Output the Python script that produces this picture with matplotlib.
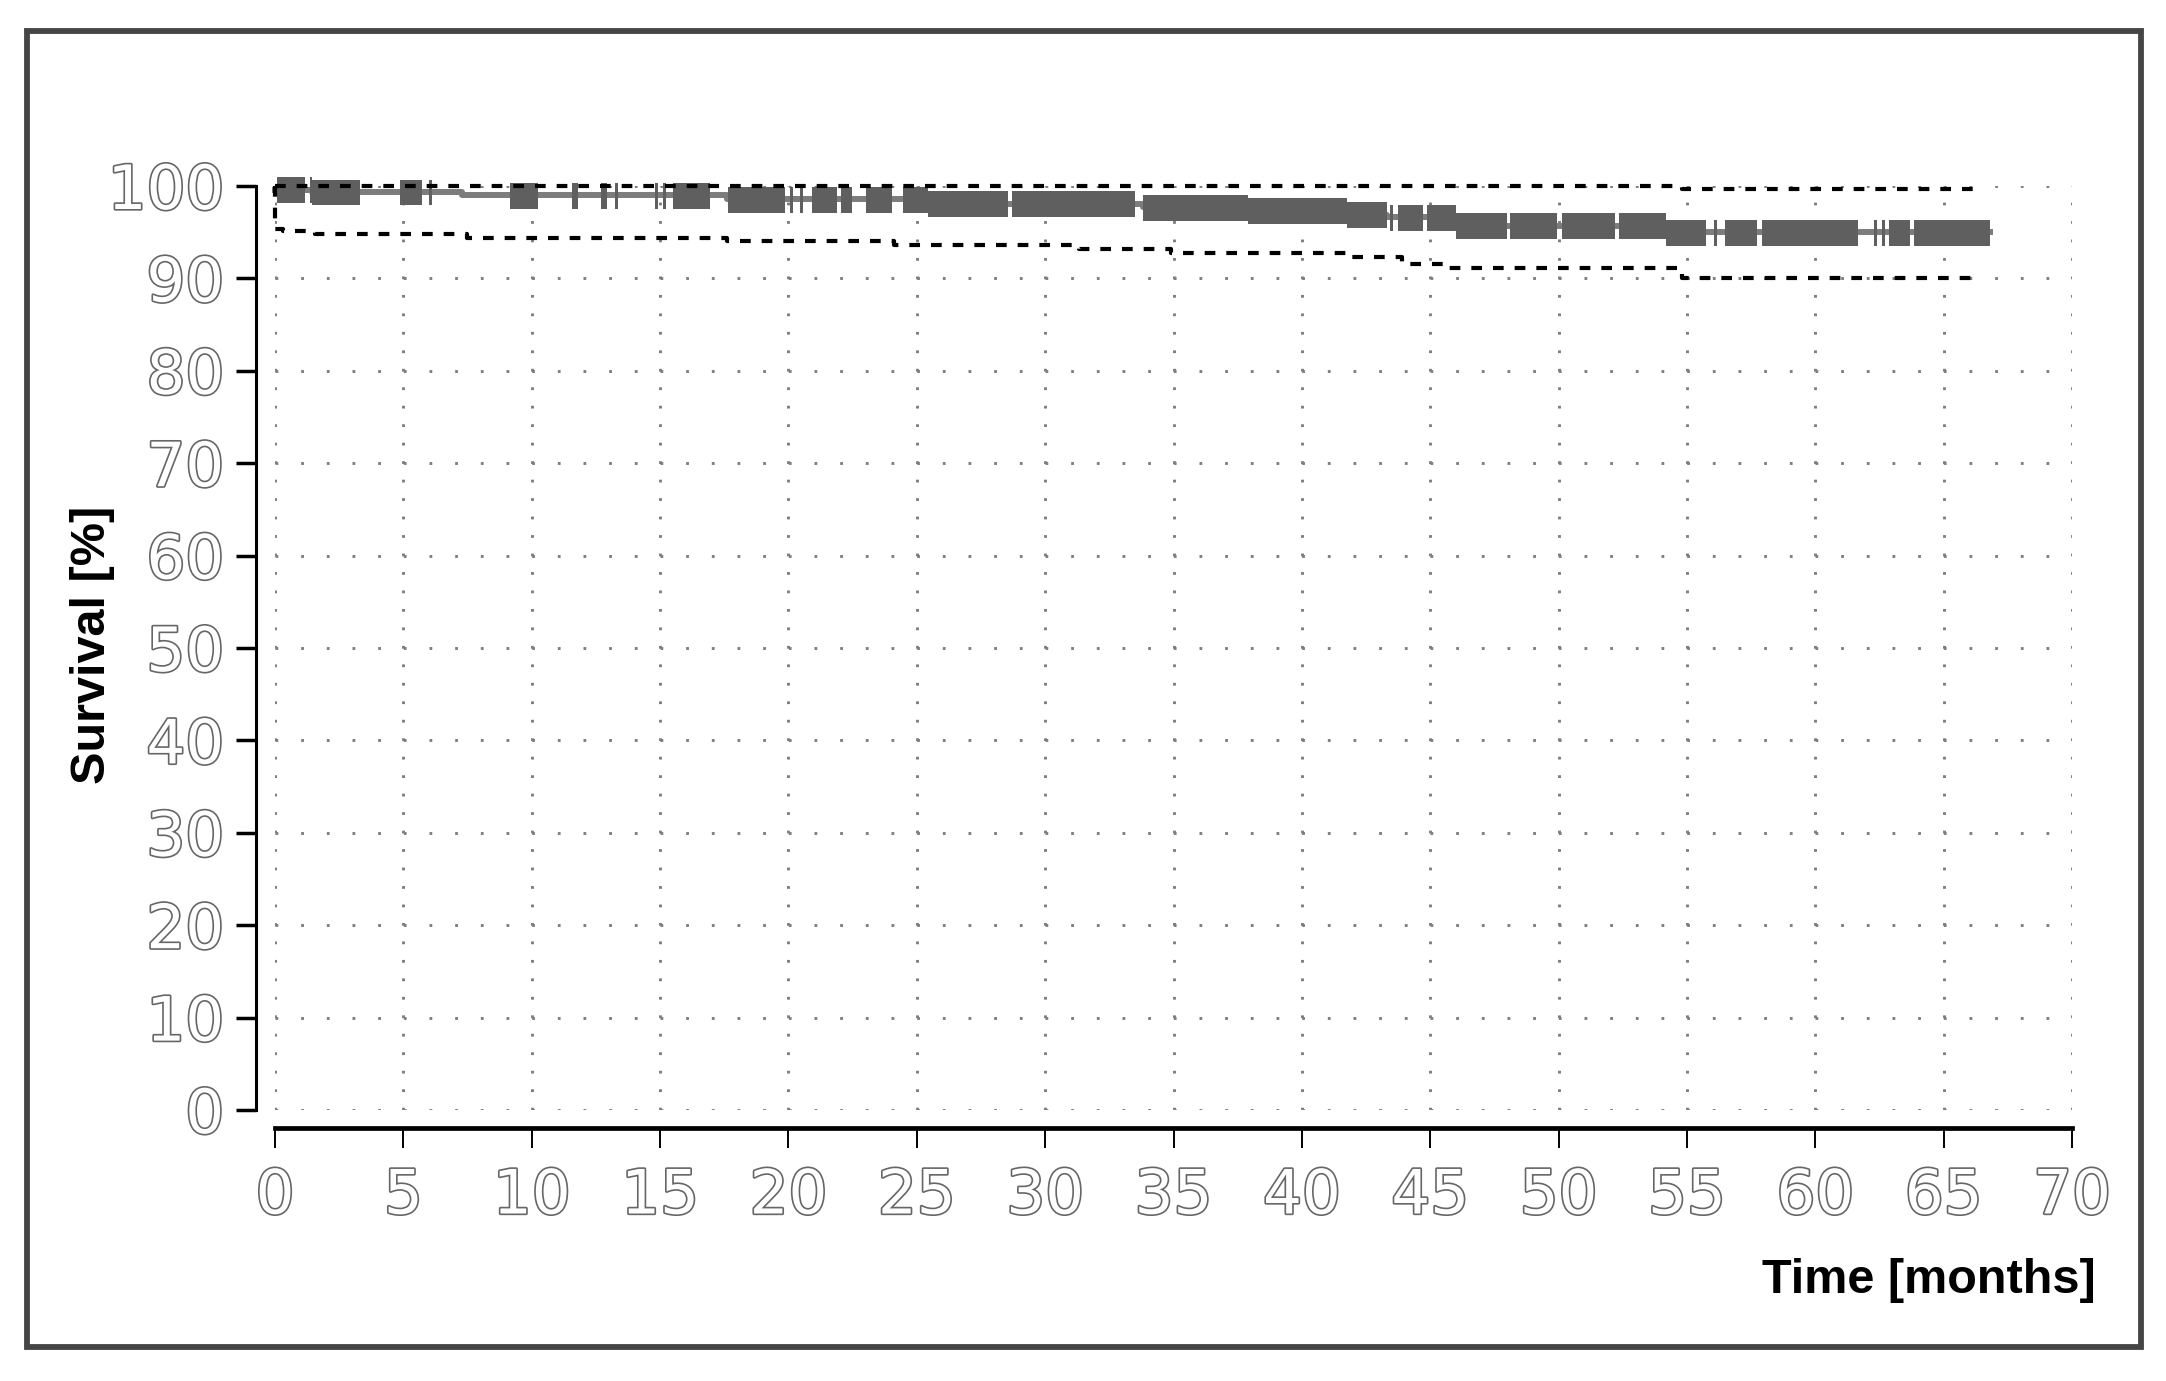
import numpy as np
import matplotlib.pyplot as plt
from matplotlib import font_manager, patheffects
from matplotlib.patches import Rectangle

plt.rcParams['lines.scale_dashes'] = False

# Kaplan-Meier estimate: step times (months) and survival (%)
km_time = [0.0, 1.45, 7.3, 17.6, 25.45, 33.8, 37.9, 41.75, 43.3, 46.0, 54.2, 66.8]
km_surv = [99.6, 99.35, 99.0, 98.55, 98.1, 97.7, 97.3, 96.9, 96.6, 95.7, 95.0, 95.0]

# 95% confidence band
ci_lo_time = [0.0, 0.0, 0.3, 1.56, 7.47, 17.6, 24.1, 31.3, 34.9, 41.75, 43.9, 45.6, 54.8, 66.2]
ci_lo = [100.0, 95.3, 95.15, 94.8, 94.35, 94.05, 93.6, 93.2, 92.8, 92.35, 91.6, 91.15, 90.0, 90.0]
ci_hi_time = [0.0, 54.8, 66.2]
ci_hi = [100.0, 99.65, 99.65]

# censored cases, drawn as clusters of tick marks (start / end in months)
cens_start = [0.08, 1.38, 4.88, 5.99, 9.15, 11.56, 12.69, 13.25, 14.8, 15.1, 15.52,
              17.66, 20.06, 20.45, 20.91, 22.05, 23.02, 24.45, 28.7, 33.83, 43.43,
              43.73, 44.86, 48.1, 50.12, 52.37, 56.06, 56.49, 57.92, 62.3, 62.6,
              62.89, 63.86]
cens_end = [1.18, 3.32, 5.73, 6.12, 10.26, 11.82, 12.95, 13.37, 14.93, 15.23, 16.95,
            19.87, 20.19, 20.58, 21.88, 22.47, 24.02, 28.57, 33.5, 43.3, 43.56,
            44.7, 47.98, 49.93, 52.2, 55.75, 56.19, 57.72, 61.68, 62.4, 62.73,
            63.69, 66.81]

x_ticks = list(range(0, 71, 5))
y_ticks = list(range(0, 101, 10))

available = {f.name for f in font_manager.fontManager.ttflist}
tick_font = 'Liberation Sans Narrow' if 'Liberation Sans Narrow' in available else 'DejaVu Sans'
label_font = 'Liberation Sans' if 'Liberation Sans' in available else 'DejaVu Sans'

W, H = 2166, 1381
fig = plt.figure(figsize=(W / 100, H / 100), dpi=100)
fig.patch.set_facecolor('white')
ax = fig.add_axes([275 / W, (H - 1110) / H, 1797 / W, 924 / H])
ax.set_xlim(0, 70)
ax.set_ylim(0, 100)

# outer frame
fig.add_artist(Rectangle((27 / W, (H - 1347) / H), (2141 - 27) / W, (1347 - 31) / H,
                         transform=fig.transFigure, fill=False,
                         edgecolor='#454545', linewidth=4.2))

# dotted grid: one dot per month along rows, one per 2 % along columns
ax.set_xticks(x_ticks)
ax.set_yticks(y_ticks)
ax.xaxis.grid(True, color='#7e7e7e', linewidth=2.1, linestyle=(0, (2.0, 11.3)))
ax.yaxis.grid(True, color='#7e7e7e', linewidth=2.1, linestyle=(0, (2.0, 16.48)))
ax.set_axisbelow(True)

# survival curve
ax.step(km_time, km_surv, where='post', color='#7c7c7c', linewidth=4.3,
        clip_on=False, zorder=2)

# censor marks
bar_x, bar_w, bar_y = [], [], []
for s, e in zip(cens_start, cens_end):
    cuts = [s] + [t for t in km_time if s < t < e] + [e]
    for a, b in zip(cuts[:-1], cuts[1:]):
        lev = km_surv[np.searchsorted(km_time, a, side='right') - 1]
        bar_x.append(a)
        bar_w.append(b - a)
        bar_y.append(lev - 1.45)
ax.bar(bar_x, 2.8, width=bar_w, bottom=bar_y, align='edge', color='#5f5f5f',
       linewidth=0, clip_on=False, zorder=3)

# confidence limits
for tt, vv in [(ci_lo_time, ci_lo), (ci_hi_time, ci_hi)]:
    ax.plot(tt, vv, drawstyle='steps-post', color='black', linewidth=3.0,
            linestyle=(0, (7.7, 7.9)), clip_on=False, zorder=4)

# axes
for side in ['top', 'right']:
    ax.spines[side].set_visible(False)
ax.spines['left'].set_position(('outward', 13.7))
ax.spines['left'].set_bounds(0, 100)
ax.spines['left'].set_linewidth(2.2)
ax.spines['bottom'].set_position(('outward', 13))
ax.spines['bottom'].set_bounds(0, 70)
ax.spines['bottom'].set_linewidth(3.4)
ax.tick_params(axis='y', direction='out', length=14.4, width=2.5, pad=8.6,
               labelsize=44, labelcolor='white')
ax.tick_params(axis='x', direction='out', length=14.4, width=1.4, pad=14,
               labelsize=44, labelcolor='white')
outline = [patheffects.withStroke(linewidth=2.4, foreground='#666666')]
for lbl in ax.get_xticklabels() + ax.get_yticklabels():
    lbl.set_fontfamily(tick_font)
    lbl.set_path_effects(outline)

ax.set_ylabel('Survival [%]', fontsize=35, fontweight='bold', family=label_font,
              ha='center', va='center')
ax.yaxis.set_label_coords(-0.1013, 0.503)
ax.set_xlabel('Time [months]', fontsize=35, fontweight='bold', family=label_font,
              ha='right', va='center')
ax.xaxis.set_label_coords(1.0134, -0.185)

fig.savefig('out.png', dpi=100, facecolor='white')
